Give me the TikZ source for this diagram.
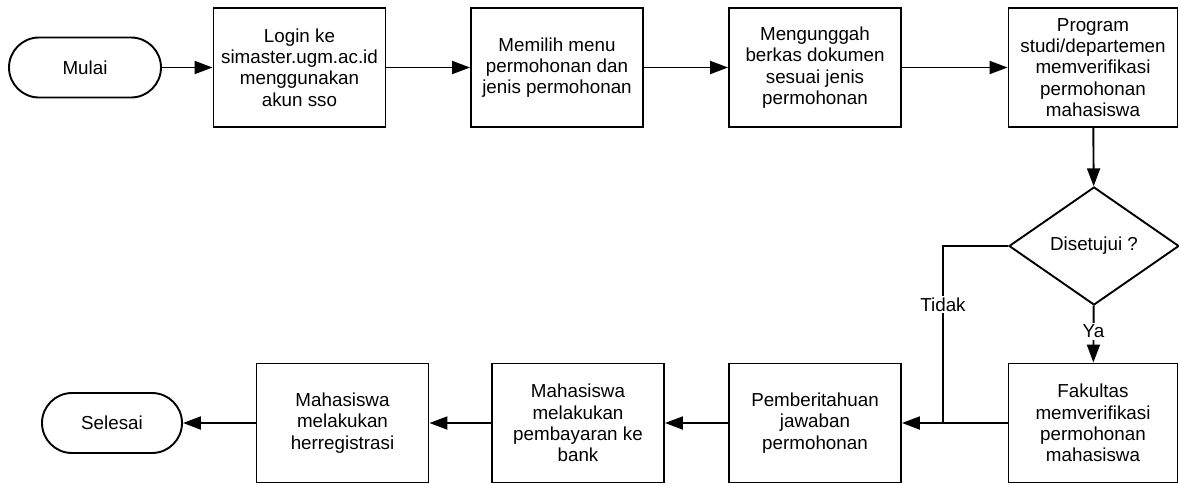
\documentclass[tikz,border=0pt]{standalone}
\usepackage{fontspec}
\setmainfont{Liberation Sans}
\usetikzlibrary{shapes.geometric,arrows.meta}
\begin{document}
\begin{tikzpicture}[x=1pt,y=-1pt,
  every node/.style={font=\fontsize{18.8}{21.3}\selectfont},
  proc/.style={draw,line width=1.9pt,minimum width=172pt,minimum height=119pt,align=center,inner sep=1pt},
  term/.style={draw,line width=1.9pt,rounded corners=30pt,minimum width=152pt,minimum height=60pt},
  dec/.style={draw,line width=1.9pt,diamond,minimum width=170pt,minimum height=118pt,inner sep=0pt},
  conn/.style={line width=1.9pt,-{Triangle[length=18pt,width=13pt]}},
  plain/.style={line width=1.9pt},
  lbl/.style={fill=white,inner sep=2pt}]
\useasboundingbox (0,0) rectangle (1179,483);
\node[term] (mulai) at (85,67.5) {Mulai};
\node[proc] (b1) at (299.5,67.5) {Login ke\\simaster.ugm.ac.id\\menggunakan\\akun sso};
\node[proc] (b2) at (557,67.5) {Memilih menu\\permohonan dan\\jenis permohonan};
\node[proc] (b3) at (815,67.5) {Mengunggah\\berkas dokumen\\sesuai jenis\\permohonan};
\node[proc,minimum width=169pt] (b4) at (1093,67.5) {Program\\studi/departemen\\memverifikasi\\permohonan\\mahasiswa};
\node[dec] (dia) at (1094,246) {Disetujui ?};
\node[proc,minimum width=169pt] (fak) at (1093,423) {Fakultas\\memverifikasi\\permohonan\\mahasiswa};
\node[proc] (pem) at (815,423) {Pemberitahuan\\jawaban\\permohonan};
\node[proc] (bay) at (578,423) {Mahasiswa\\melakukan\\pembayaran ke\\bank};
\node[proc] (her) at (342.5,423) {Mahasiswa\\melakukan\\herregistrasi};
\node[term,minimum width=140pt] (sel) at (112,423) {Selesai};
\coordinate (tc) at (943,246);
\coordinate (tj) at (943,423);
\draw[conn] (mulai) -- (b1);
\draw[conn] (b1) -- (b2);
\draw[conn] (b2) -- (b3);
\draw[conn] (b3) -- (b4);
\draw[conn] (b4) -- (dia);
\draw[conn] (dia) -- node[lbl,pos=0.45] (ya) {Ya} (fak);
\draw[conn] (fak) -- (pem);
\draw[plain] (dia.west) -- (tc) -- node[lbl,pos=0.33] (tidak) {Tidak} (tj);
\draw[conn] (pem) -- (bay);
\draw[conn] (bay) -- (her);
\draw[conn] (her) -- (sel);
\end{tikzpicture}
\end{document}
